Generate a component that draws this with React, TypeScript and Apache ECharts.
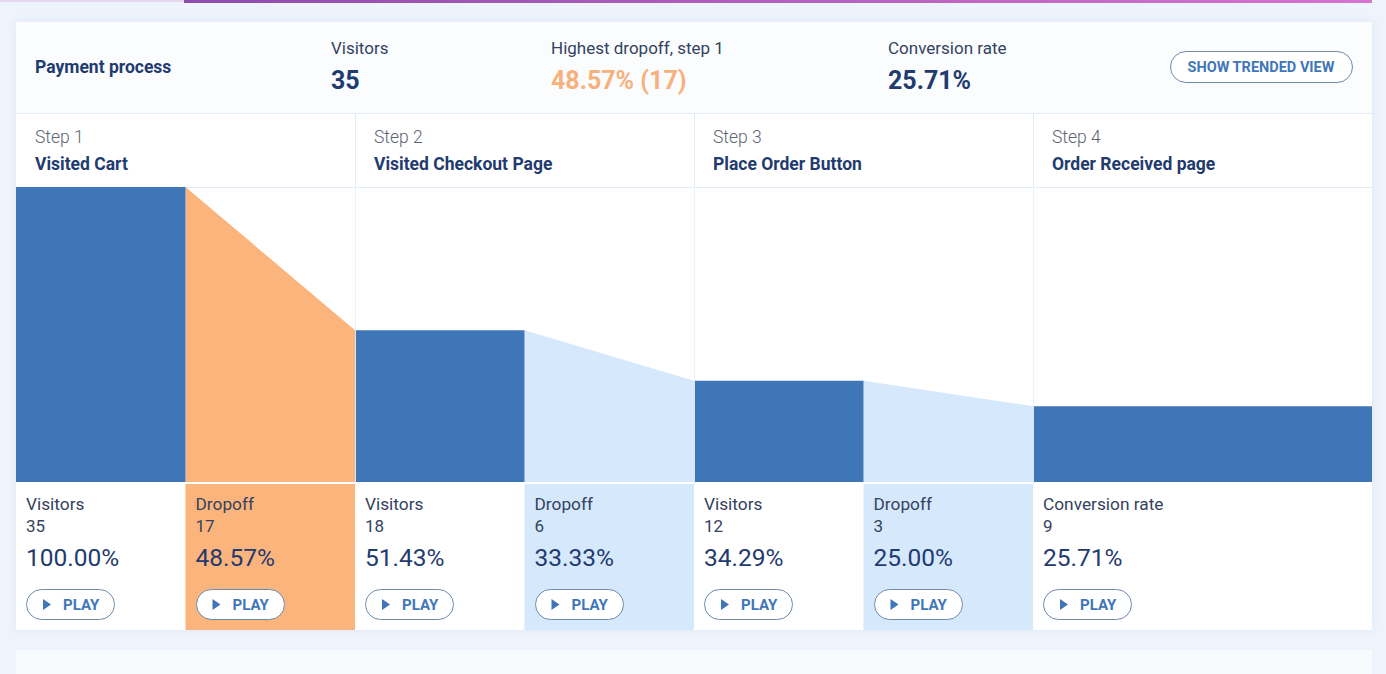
import React, { useEffect, useRef } from "react";
import * as echarts from "echarts";

// ---------- data ----------
const stepLabels = ["Step 1", "Step 2", "Step 3", "Step 4"];
const stepNames = ["Visited Cart", "Visited Checkout Page", "Place Order Button", "Order Received page"];
const visitors = [35, 18, 12, 9];
const dropoffs = [17, 6, 3];
const headerTitle = "Payment process";
const headerVisitorsLabel = "Visitors";
const headerDropLabel = "Highest dropoff, step 1";
const headerConvLabel = "Conversion rate";
const buttonLabel = "SHOW TRENDED VIEW";

// ---------- style ----------
const FONT = "Roboto, 'Noto Sans', sans-serif";
const NAVY = "#1f3b6f";
const LABEL = "#34425e";
const GREY = "#5d6370";
const BLUE = "#3f76b8";
const ORANGE = "#fbb47b";
const LIGHT = "#d6e8fc";
const LINE = "#e3ecf6";
const BTN_BORDER = "#6f8aab";

const W = 1386;
const H = 674;
const L = 16;
const R = 1372;
const HALF = (R - L) / 8;
const CHART_TOP = 187;
const CHART_BOTTOM = 482;
const CELL_TOP = 484;
const CELL_BOTTOM = 630;

const pct = (a: number, b: number) => ((a / b) * 100).toFixed(2) + "%";

export default function App() {
  const ref = useRef<HTMLDivElement>(null);

  useEffect(() => {
    if (!ref.current) return;
    const chart = echarts.init(ref.current, undefined, { renderer: "svg" });

    const total = visitors[0];
    const dropRates = dropoffs.map((d, i) => d / visitors[i]);
    const maxIdx = dropRates.indexOf(Math.max(...dropRates));
    const conv = visitors[visitors.length - 1];

    const colX = (k: number) => L + k * HALF;

    const barData = visitors.map((v, i) => ({
      value: [2 * i, i === visitors.length - 1 ? 8 : 2 * i + 1, v, v],
      itemStyle: { color: BLUE },
    }));
    const dropData = dropoffs.map((d, i) => ({
      value: [2 * i + 1, 2 * i + 2, visitors[i], visitors[i + 1]],
      itemStyle: { color: i === maxIdx ? ORANGE : LIGHT },
    }));

    const txt = (
      x: number,
      y: number,
      text: string,
      size: number,
      color: string,
      weight: string | number = "normal",
      align = "left"
    ) => ({
      type: "text",
      x,
      y,
      z: 100,
      style: {
        text,
        fill: color,
        fontSize: size,
        fontWeight: weight,
        fontFamily: FONT,
        align,
        textAlign: align,
        verticalAlign: "middle",
        textVerticalAlign: "middle",
      },
    });

    const graphics: any[] = [];
    // top gradient stripe
    graphics.push({ type: "rect", z: 1, shape: { x: 0, y: 0, width: 184, height: 2 }, style: { fill: "#e6d8ee" } });
    graphics.push({
      type: "rect",
      z: 1,
      shape: { x: 184, y: 0, width: R - 184, height: 3 },
      style: {
        fill: new echarts.graphic.LinearGradient(0, 0, 1, 0, [
          { offset: 0, color: "#8e4cae" },
          { offset: 1, color: "#d674cf" },
        ]),
      },
    });
    // main card
    graphics.push({
      type: "rect",
      z: 1,
      shape: { x: L, y: 22, width: R - L, height: CELL_BOTTOM - 22 },
      style: { fill: "#ffffff", shadowBlur: 10, shadowColor: "rgba(40,80,140,0.06)" },
    });
    graphics.push({ type: "rect", z: 1, shape: { x: L, y: 22, width: R - L, height: 91 }, style: { fill: "#fafcfe" } });
    // lower card
    graphics.push({ type: "rect", z: 1, shape: { x: L, y: 650, width: R - L, height: 40 }, style: { fill: "#f8fbfe" } });
    // lines
    graphics.push({ type: "line", z: 2, shape: { x1: L, y1: 113.5, x2: R, y2: 113.5 }, style: { stroke: LINE, lineWidth: 1 } });
    graphics.push({ type: "line", z: 2, shape: { x1: L, y1: 187.5, x2: R, y2: 187.5 }, style: { stroke: LINE, lineWidth: 1 } });
    for (let i = 1; i < stepLabels.length; i++) {
      const x = Math.round(colX(2 * i)) + 0.5;
      graphics.push({ type: "line", z: 2, shape: { x1: x, y1: 113, x2: x, y2: CELL_TOP }, style: { stroke: LINE, lineWidth: 1 } });
      graphics.push({ type: "line", z: 60, shape: { x1: x, y1: CHART_TOP, x2: x, y2: CHART_BOTTOM }, style: { stroke: "rgba(235,242,250,0.9)", lineWidth: 1 } });
    }

    // header
    graphics.push(txt(35, 67, headerTitle, 17.5, NAVY, "bold"));
    graphics.push(txt(331, 48, headerVisitorsLabel, 17, LABEL));
    graphics.push(txt(331, 80, String(total), 25, NAVY, "bold"));
    graphics.push(txt(551, 48, headerDropLabel, 17, LABEL));
    graphics.push(txt(551, 80, `${pct(dropoffs[maxIdx], visitors[maxIdx])} (${dropoffs[maxIdx]})`, 25, "#f6b17c", "bold"));
    graphics.push(txt(888, 48, headerConvLabel, 17, LABEL));
    graphics.push(txt(888, 80, pct(conv, total), 25, NAVY, "bold"));
    graphics.push({
      type: "rect",
      z: 100,
      shape: { x: 1170.5, y: 51.5, width: 182, height: 31, r: 15.5 },
      style: { fill: "#ffffff", stroke: BTN_BORDER, lineWidth: 1 },
    });
    graphics.push(txt(1261, 67, buttonLabel, 14.5, BLUE, "bold", "center"));

    // step headers
    stepLabels.forEach((s, i) => {
      const x = colX(2 * i) + 19;
      graphics.push(txt(x, 137, s, 17.5, GREY, 300));
      graphics.push(txt(x, 164, stepNames[i], 17.5, NAVY, "bold"));
    });

    // bottom cells
    type Cell = { k: number; label: string; count: number; p: string; bg: string | null };
    const cells: Cell[] = [];
    visitors.forEach((v, i) => {
      const last = i === visitors.length - 1;
      cells.push({ k: 2 * i, label: last ? "Conversion rate" : "Visitors", count: v, p: pct(v, total), bg: null });
      if (i < dropoffs.length) {
        cells.push({
          k: 2 * i + 1,
          label: "Dropoff",
          count: dropoffs[i],
          p: pct(dropoffs[i], visitors[i]),
          bg: i === maxIdx ? ORANGE : LIGHT,
        });
      }
    });
    cells.forEach((c) => {
      const x0 = colX(c.k);
      if (c.bg) {
        graphics.push({
          type: "rect",
          z: 3,
          shape: { x: x0, y: CELL_TOP, width: HALF, height: CELL_BOTTOM - CELL_TOP },
          style: { fill: c.bg },
        });
      }
      const tx = x0 + 10;
      graphics.push(txt(tx, 504, c.label, 17.3, LABEL));
      graphics.push(txt(tx, 526, String(c.count), 17, LABEL));
      graphics.push(txt(tx, 557, c.p, 24.5, NAVY));
      graphics.push({
        type: "rect",
        z: 100,
        shape: { x: Math.round(tx) + 0.5, y: 589.5, width: 88, height: 30, r: 15 },
        style: { fill: "#ffffff", stroke: BTN_BORDER, lineWidth: 1 },
      });
      graphics.push({
        type: "polygon",
        z: 101,
        shape: { points: [[tx + 17, 599], [tx + 25, 604.5], [tx + 17, 610]] },
        style: { fill: BLUE },
      });
      graphics.push(txt(tx + 37, 605, "PLAY", 15, BLUE, "bold"));
    });

    const renderShape = (params: any, api: any) => {
      const x0 = api.value(0);
      const x1 = api.value(1);
      const v0 = api.value(2);
      const v1 = api.value(3);
      const a = api.coord([x0, v0]);
      const b = api.coord([x1, v1]);
      const c = api.coord([x1, 0]);
      const d = api.coord([x0, 0]);
      return {
        type: "polygon",
        shape: { points: [a, b, c, d] },
        style: { fill: api.visual("color") },
      };
    };

    chart.setOption({
      animation: false,
      backgroundColor: "#eef4fc",
      grid: { left: L, right: W - R, top: CHART_TOP, bottom: H - CHART_BOTTOM, containLabel: false },
      xAxis: { type: "value", min: 0, max: 8, show: false },
      yAxis: { type: "value", min: 0, max: visitors[0], show: false },
      graphic: { elements: graphics },
      series: [
        { type: "custom", name: "Dropoff", z: 10, renderItem: renderShape, data: dropData, encode: { x: [0, 1], y: [2, 3] } },
        { type: "custom", name: "Visitors", z: 11, renderItem: renderShape, data: barData, encode: { x: [0, 1], y: [2, 3] } },
      ],
    });

    return () => chart.dispose();
  }, []);

  return <div ref={ref} style={{ position: "absolute", left: 0, top: 0, width: W, height: H }} />;
}
